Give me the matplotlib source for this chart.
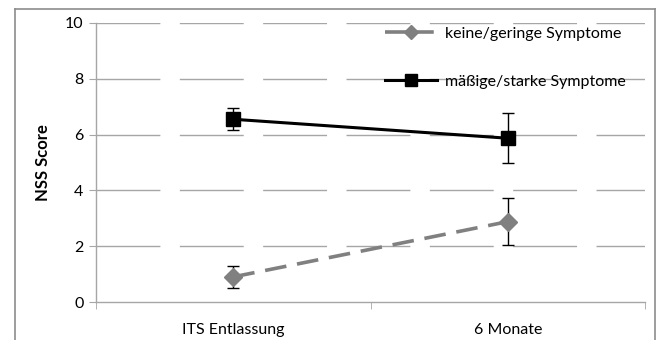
import matplotlib.pyplot as plt
from matplotlib.lines import Line2D

# Daten
categories = ['ITS Entlassung', '6 Monate']
keine_mean = [0.9, 2.88]
keine_err = [0.4, 0.84]
starke_mean = [6.55, 5.87]
starke_err = [0.4, 0.9]
y_ticks = [0, 2, 4, 6, 8, 10]

plt.rcParams['font.family'] = ['Lato', 'DejaVu Sans']

fig = plt.figure(figsize=(6.62, 3.40), dpi=100)
ax = fig.add_axes([96 / 662, 38 / 340, 549 / 662, 279 / 340])

x = list(range(len(categories)))

# Gitterlinien (gestrichelt)
for yv in y_ticks[1:]:
    ax.axhline(yv, color='#a6a6a6', lw=1, dashes=(46, 14), zorder=0)

ax.errorbar(x, keine_mean, yerr=keine_err, color='#808080', lw=2.6,
            dashes=(6, 3), marker='D', ms=9, mfc='#808080', mec='#808080',
            ecolor='black', elinewidth=1, capsize=4, capthick=1, zorder=3)
ax.errorbar(x, starke_mean, yerr=starke_err, color='black', lw=2.2,
            marker='s', ms=10, mfc='black', mec='black',
            ecolor='black', elinewidth=1, capsize=4, capthick=1, zorder=3)

ax.set_xlim(-0.5, 1.5)
ax.set_ylim(0, 10)
ax.set_yticks(y_ticks)
ax.set_xticks(x)
ax.set_xticklabels(categories)
ax.set_xticks([-0.5, 0.5, 1.5], minor=True)
ax.tick_params(axis='x', which='major', length=0, pad=15, labelsize=11.5)
ax.tick_params(axis='x', which='minor', length=5, color='#a6a6a6', direction='out')
ax.tick_params(axis='y', length=5, color='#a6a6a6', labelsize=11.5, pad=4)

for s in ['top', 'right']:
    ax.spines[s].set_visible(False)
for s in ['left', 'bottom']:
    ax.spines[s].set_color('#a6a6a6')
    ax.spines[s].set_linewidth(1)

ax.set_ylabel('NSS Score', fontsize=12, fontweight='bold', labelpad=10)

handles = [
    Line2D([], [], color='#808080', lw=2.6, dashes=(6, 1.5), marker='D', ms=7,
           mfc='#808080', mec='#808080'),
    Line2D([], [], color='black', lw=2.2, marker='s', ms=8, mfc='black', mec='black'),
]
ax.legend(handles, ['keine/geringe Symptome', 'mäßige/starke Symptome'],
          loc='upper left', bbox_to_anchor=(0.526, 0.988), frameon=False,
          fontsize=11.5, handlelength=3.3, handletextpad=0.5, labelspacing=2.15,
          borderpad=0, borderaxespad=0)

# Rahmen um die Grafik
frame = dict(color='#8c8c8c', lw=1.2, transform=fig.transFigure)
fig.add_artist(Line2D([15 / 662, 15 / 662], [0, 1 - 9 / 340], **frame))
fig.add_artist(Line2D([15 / 662, 655 / 662], [1 - 9 / 340, 1 - 9 / 340], **frame))
fig.add_artist(Line2D([655 / 662, 655 / 662], [0, 1 - 9 / 340], **frame))

fig.savefig('out.png', dpi=100)
